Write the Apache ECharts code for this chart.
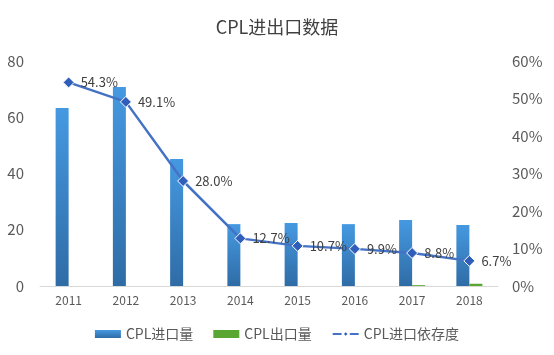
<!DOCTYPE html>
<html><head><meta charset="utf-8">
<script src="https://cdn.jsdelivr.net/npm/echarts@6/dist/echarts.min.js"></script>
<style>html,body{margin:0;padding:0;background:#fff}#c{width:554px;height:355px}</style>
</head><body><div id="c"></div>
<script>
var categories = ['2011','2012','2013','2014','2015','2016','2017','2018'];
var importVol = [63.3, 70.8, 45.2, 22.0, 22.4, 22.0, 23.5, 21.7];
var exportVol = [0, 0, 0, 0, 0, 0, 0.3, 0.8];
var dependence = [54.3, 49.1, 28.0, 12.7, 10.7, 9.9, 8.8, 6.7];
var leftTicks = [0, 80, 20];
var rightTicks = [0, 60, 10];

var chart = echarts.init(document.getElementById('c'));
var font = '"Microsoft YaHei","Noto Sans CJK SC",sans-serif';
chart.setOption({
  animation: false,
  textStyle: {fontFamily: font},
  title: {text: 'CPL进出口数据', left: 'center', top: 13,
    textStyle: {fontSize: 18, fontWeight: 'normal', color: '#404040', fontFamily: font}},
  legend: {bottom: 9, itemGap: 20, itemWidth: 26, itemHeight: 8,
    textStyle: {fontSize: 14, color: '#595959'},
    data: [{name: 'CPL进口量', icon: 'rect'}, {name: 'CPL出口量', icon: 'rect'}, {name: 'CPL进口依存度'}]},
  grid: {left: 40, right: 56, top: 61, bottom: 69},
  xAxis: {type: 'category', data: categories,
    axisLine: {lineStyle: {color: '#d9d9d9'}}, axisTick: {show: false},
    axisLabel: {color: '#595959', fontSize: 12}},
  yAxis: [
    {type: 'value', min: leftTicks[0], max: leftTicks[1], interval: leftTicks[2],
      splitLine: {show: false}, axisLine: {show: false}, axisTick: {show: false},
      axisLabel: {color: '#595959', fontSize: 15, margin: 16}},
    {type: 'value', min: rightTicks[0], max: rightTicks[1], interval: rightTicks[2],
      splitLine: {show: false}, axisLine: {show: false}, axisTick: {show: false},
      axisLabel: {color: '#595959', fontSize: 15, margin: 14, formatter: '{value}%'}}
  ],
  series: [
    {name: 'CPL进口量', type: 'bar', data: importVol, barWidth: 13, barGap: '0%',
      itemStyle: {color: new echarts.graphic.LinearGradient(0, 0, 0, 1,
        [{offset: 0, color: '#4599e1'}, {offset: 1, color: '#2f6ca6'}])}},
    {name: 'CPL出口量', type: 'bar', data: exportVol, barWidth: 13, barGap: '0%',
      itemStyle: {color: '#5aa632'}},
    {name: 'CPL进口依存度', type: 'line', yAxisIndex: 1, data: dependence,
      symbol: 'diamond', symbolSize: 11,
      lineStyle: {color: '#4472c4', width: 2.5},
      itemStyle: {color: '#2f5fbb', borderColor: '#fff', borderWidth: 1},
      label: {show: true, position: 'right', distance: 6, color: '#404040', fontSize: 13,
        formatter: function (p) { return p.value.toFixed(1) + '%'; }}}
  ]
});
</script></body></html>
